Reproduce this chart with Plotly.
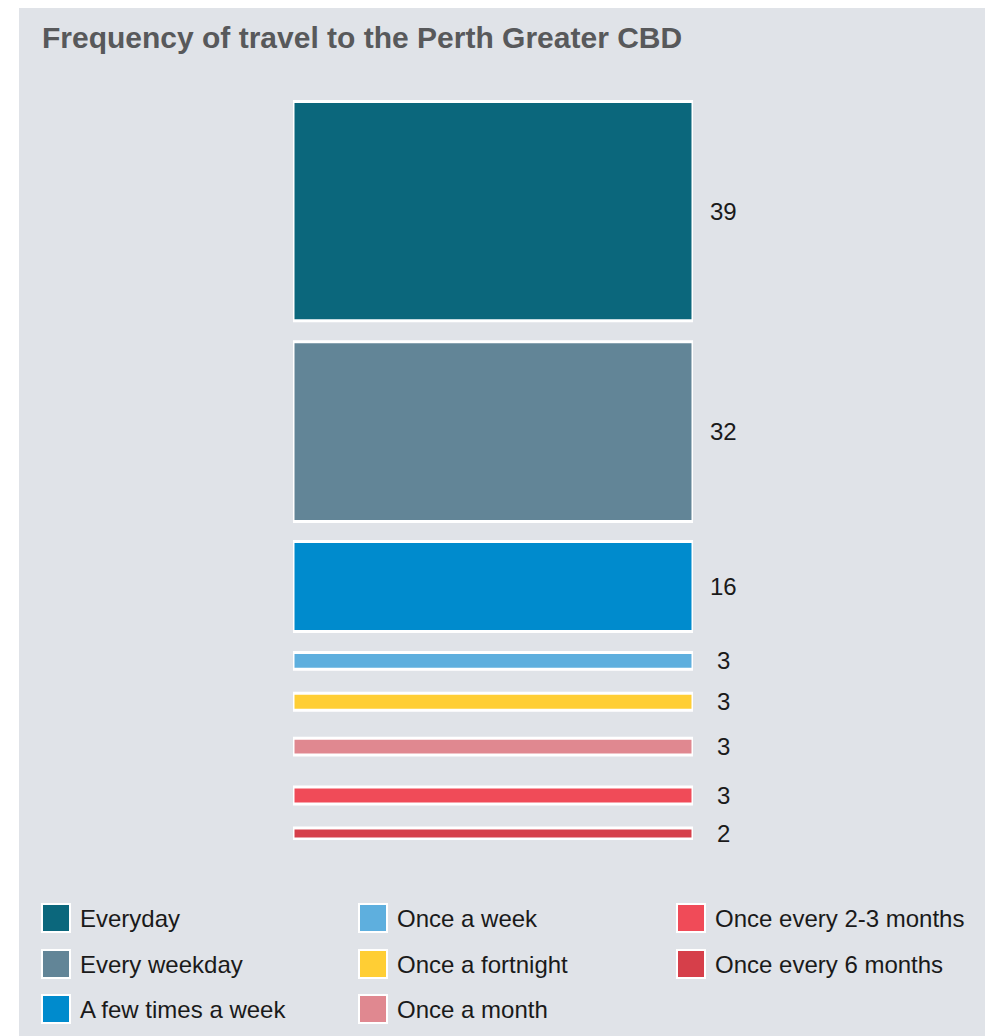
import plotly.graph_objects as go

# ---- data ----
categories = ["Everyday", "Every weekday", "A few times a week", "Once a week",
              "Once a fortnight", "Once a month", "Once every 2-3 months",
              "Once every 6 months"]
values = [39, 32, 16, 3, 3, 3, 3, 2]
colors = ["#0b677c", "#628597", "#008bcd", "#5eafde",
          "#ffce34", "#e08890", "#f04b58", "#d63f4a"]
title_text = "Frequency of travel to the Perth Greater CBD"

# ---- layout constants ----
W, H = 993, 1036
OFF = 8                                       # page body offset
PL, PR, PT, PB = 293 - OFF, 693 - OFF, 100 - OFF, 840 - OFF
PX_PER_UNIT = 5.62                            # vertical scale
SPACING_PX = [21, 20, 21, 24, 28, 32, 24]     # layout spacing between segments
BG = "#e0e3e8"
FONT = "Liberation Sans, Arial, Helvetica, sans-serif"

y_span = (PB - PT) / PX_PER_UNIT
start = 1.5 / PX_PER_UNIT

def px_x(px):
    return (px - OFF - PL) / (PR - PL)

def px_y(py):
    return (PB - (py - OFF)) / (PB - PT)

fig = go.Figure()
bases = []
b = start
for i, v in enumerate(values):
    bases.append(b)
    if i < len(SPACING_PX):
        b += v + SPACING_PX[i] / PX_PER_UNIT

for name, v, base, c in zip(categories, values, bases, colors):
    fig.add_trace(go.Bar(
        x=[0], y=[v], base=[base], width=[1], name=name,
        marker=dict(color=c, line=dict(color="white", width=3)),
        showlegend=False, hoverinfo="skip",
    ))

annotations = []
for v, base in zip(values, bases):
    annotations.append(dict(
        x=0.5, y=base + v / 2, xref="x", yref="y", text=str(v),
        showarrow=False, xanchor="center", yanchor="middle", xshift=30,
        font=dict(family=FONT, size=24, color="#1a1a1a"),
    ))

shapes = [dict(type="rect", xref="paper", yref="paper", layer="below",
               x0=px_x(19), x1=px_x(991), y0=px_y(1060), y1=px_y(5),
               fillcolor=BG, line=dict(width=0))]

# legend (column-major, 3 rows)
col_x = [42, 359, 677]
row_y = [918, 964, 1009]
sw = 28
for i, (name, c) in enumerate(zip(categories, colors)):
    col, row = divmod(i, 3)
    x0 = col_x[col]
    yc = row_y[row]
    shapes.append(dict(type="rect", xref="paper", yref="paper",
                       x0=px_x(x0), x1=px_x(x0 + sw),
                       y0=px_y(yc + sw / 2), y1=px_y(yc - sw / 2),
                       fillcolor=c, line=dict(color="white", width=2)))
    annotations.append(dict(
        x=px_x(x0 + 36), y=px_y(yc), xref="paper", yref="paper",
        text=name, showarrow=False, xanchor="left", yanchor="middle",
        font=dict(family=FONT, size=24, color="#1a1a1a"),
    ))

fig.update_layout(
    width=W, height=H,
    margin=dict(l=PL, r=W - PR, t=PT, b=H - PB, pad=0),
    paper_bgcolor="white", plot_bgcolor="rgba(0,0,0,0)",
    barmode="overlay",
    title=dict(text=title_text, xref="container", yref="container",
               x=(42 - OFF) / W, xanchor="left", y=1 - (37 - OFF) / H,
               yanchor="middle",
               font=dict(family=FONT, size=30, color="#58595b", weight="bold")),
    xaxis=dict(range=[-0.5, 0.5], visible=False, fixedrange=True),
    yaxis=dict(range=[y_span, 0], visible=False, fixedrange=True),
    shapes=shapes, annotations=annotations,
    showlegend=False,
)

fig.write_html("out.html")
